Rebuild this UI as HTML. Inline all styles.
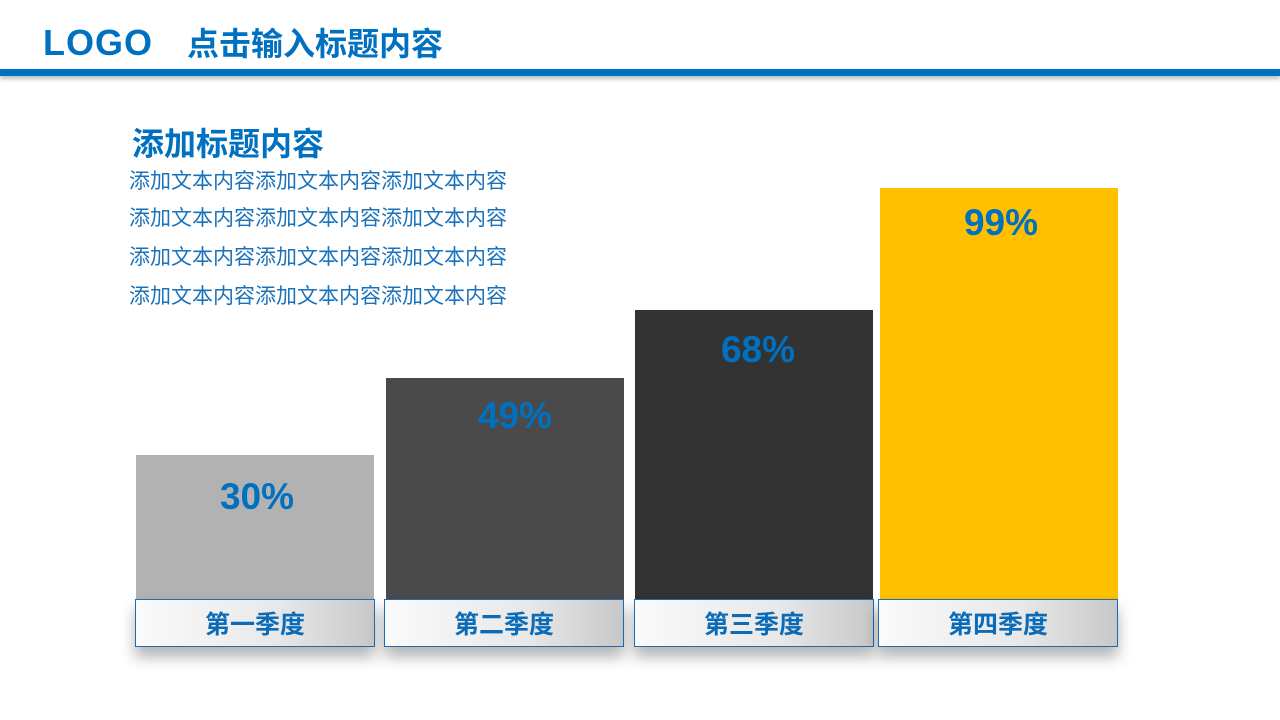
<!DOCTYPE html>
<html><head><meta charset="utf-8"><style>
body{margin:0;width:1280px;height:720px;background:#fff;position:relative;overflow:hidden;font-family:"Liberation Sans","Noto Sans CJK SC",sans-serif;color:#0070c0}
.a{position:absolute;white-space:nowrap}
.bar{position:absolute;width:238px}
.pct{position:absolute;width:238px;text-align:center;font-size:37px;font-weight:bold;color:#0070c0}
.lab{position:absolute;top:599px;width:238px;height:46px;border:1px solid #1a6db5;background:linear-gradient(90deg,#fafafa,#e8e8e8 60%,#c8c8c8);box-shadow:0 10px 14px rgba(0,0,0,0.3);text-align:center;line-height:50px;font-size:25px;font-weight:bold;color:#0a6cb8}
.t{position:absolute;left:129px;font-size:21px;color:#1a72bb;white-space:nowrap;line-height:24px}
</style></head><body>
<div class="a" style="left:43px;top:22px;font-size:36px;font-weight:bold;letter-spacing:1px;">LOGO</div>
<div class="a" style="left:187px;top:19px;font-size:32px;font-weight:bold;">点击输入标题内容</div>
<div class="a" style="left:0;top:69px;width:1280px;height:7px;background:#0070c0;box-shadow:0 3px 4px rgba(0,0,0,0.25)"></div>
<div class="a" style="left:132px;top:119px;font-size:32px;font-weight:bold;">添加标题内容</div>
<div class="t" style="top:170px">添加文本内容添加文本内容添加文本内容</div>
<div class="t" style="top:207px">添加文本内容添加文本内容添加文本内容</div>
<div class="t" style="top:246px">添加文本内容添加文本内容添加文本内容</div>
<div class="t" style="top:285px">添加文本内容添加文本内容添加文本内容</div>

<div class="bar" style="left:136px;top:455px;height:145px;background:#b2b2b2"></div>
<div class="bar" style="left:386px;top:378px;height:222px;background:#4a4a4a"></div>
<div class="bar" style="left:635px;top:310px;height:290px;background:#333333"></div>
<div class="bar" style="left:880px;top:188px;height:412px;background:#ffc000"></div>
<div class="pct" style="left:138px;top:476px">30%</div>
<div class="pct" style="left:396px;top:395px">49%</div>
<div class="pct" style="left:639px;top:329px">68%</div>
<div class="pct" style="left:882px;top:202px">99%</div>

<div class="lab" style="left:135px">第一季度</div>
<div class="lab" style="left:384px">第二季度</div>
<div class="lab" style="left:634px">第三季度</div>
<div class="lab" style="left:878px">第四季度</div>
</body></html>
